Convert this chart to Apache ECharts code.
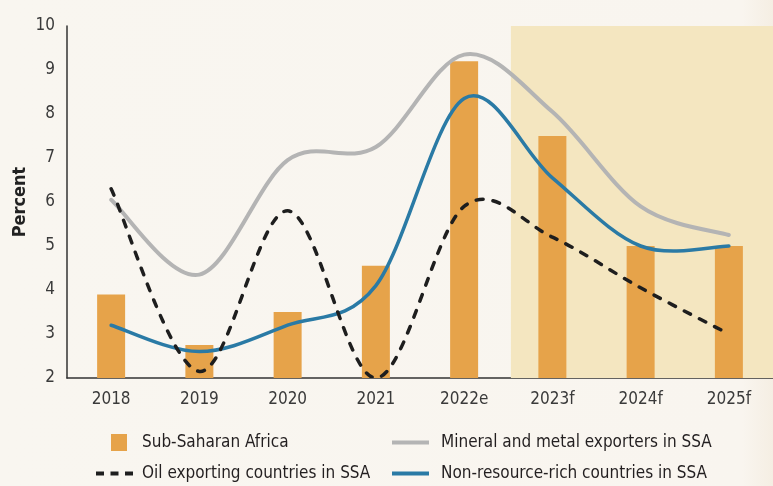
<!DOCTYPE html>
<html>
<head>
<meta charset="utf-8">
<script src="https://cdn.jsdelivr.net/npm/echarts@6/dist/echarts.min.js"></script>
<style>
html,body{margin:0;padding:0;background:#f9f5ef;}
#chart{width:773px;height:486px;}
</style>
</head>
<body>
<div id="chart"></div>
<script>
const categories = ['2018', '2019', '2020', '2021', '2022e', '2023f', '2024f', '2025f'];
const ssaGrowth = [3.9, 2.75, 3.5, 4.55, 9.2, 7.5, 5.0, 5.0];
const mineralExporters = [6.05, 4.35, 6.95, 7.25, 9.35, 8.05, 5.9, 5.25];
const oilExporters = [6.3, 2.15, 5.8, 2.0, 5.9, 5.2, 4.05, 3.0];
const nonResourceRich = [3.2, 2.6, 3.2, 4.1, 8.35, 6.55, 5.0, 5.0];
const yTicks = [2, 3, 4, 5, 6, 7, 8, 9, 10];
const forecastStart = 5.03; // category-index position where the forecast band begins
const forecastEnd = categories.length;

const FONT = "'DejaVu Sans Condensed', 'Liberation Sans Narrow', sans-serif";
const chart = echarts.init(document.getElementById('chart'));

// Smoothed (cardinal spline) line drawn through the data points mapped by the axes
function smoothRender(values, style) {
  const t = 1 / 6;
  return function (params, api) {
    if (params.dataIndex !== 0) return null;
    const pts = values.map((v, i) => api.coord([i, v]));
    const n = pts.length;
    let d = 'M' + pts[0][0] + ',' + pts[0][1];
    for (let i = 0; i < n - 1; i++) {
      const p0 = pts[i - 1] || pts[i];
      const p1 = pts[i];
      const p2 = pts[i + 1];
      const p3 = pts[i + 2] || pts[i + 1];
      const c1x = p1[0] + (p2[0] - p0[0]) * t;
      const c1y = p1[1] + (p2[1] - p0[1]) * t;
      const c2x = p2[0] - (p3[0] - p1[0]) * t;
      const c2y = p2[1] - (p3[1] - p1[1]) * t;
      d += ' C' + c1x + ',' + c1y + ' ' + c2x + ',' + c2y + ' ' + p2[0] + ',' + p2[1];
    }
    return {
      type: 'path',
      shape: { pathData: d },
      style: Object.assign({ fill: null, lineCap: 'round', lineJoin: 'round' }, style)
    };
  };
}

const legendBase = {
  orient: 'horizontal',
  padding: 0,
  selectedMode: false,
  textStyle: { fontFamily: FONT, fontSize: 17, color: '#231f20' }
};
const solidIcon = 'path://M0,0H37V4H0Z';
const dashIcon = 'path://M0,0H8V4H0Z M14.5,0H22.5V4H14.5Z M29,0H37V4H29Z';

chart.setOption({
  animation: false,
  backgroundColor: {
    type: 'linear', x: 0, y: 0, x2: 1, y2: 0,
    colorStops: [
      { offset: 0, color: '#f9f6f0' },
      { offset: 0.96, color: '#f9f5ef' },
      { offset: 1, color: '#f5eee3' }
    ]
  },
  grid: { left: 67, right: 0, top: 26, bottom: 108, containLabel: false, outerBoundsMode: 'none' },
  legend: [
    Object.assign({}, legendBase, {
      data: ['Sub-Saharan Africa'], left: 111, top: 434,
      icon: 'rect', itemWidth: 16, itemHeight: 17,
      textStyle: Object.assign({}, legendBase.textStyle, { padding: [0, 0, 0, 10] })
    }),
    Object.assign({}, legendBase, {
      data: ['Mineral and metal exporters in SSA'], left: 392, top: 434,
      icon: solidIcon, itemWidth: 37, itemHeight: 4,
      textStyle: Object.assign({}, legendBase.textStyle, { padding: [0, 0, 0, 7] })
    }),
    Object.assign({}, legendBase, {
      data: ['Oil exporting countries in SSA'], left: 96, top: 465,
      icon: dashIcon, itemWidth: 37, itemHeight: 4,
      textStyle: Object.assign({}, legendBase.textStyle, { padding: [0, 0, 0, 4] })
    }),
    Object.assign({}, legendBase, {
      data: ['Non-resource-rich countries in SSA'], left: 392, top: 465,
      icon: solidIcon, itemWidth: 37, itemHeight: 4,
      textStyle: Object.assign({}, legendBase.textStyle, { padding: [0, 0, 0, 7] })
    })
  ],
  xAxis: [
    {
      type: 'category',
      data: categories,
      boundaryGap: true,
      axisLine: { show: true, lineStyle: { color: '#333', width: 1.5 } },
      axisTick: { show: false },
      axisLabel: { fontFamily: FONT, fontSize: 17, color: '#3a3a3a', margin: 13 },
      splitLine: { show: false }
    },
    {
      type: 'value', min: 0, max: forecastEnd, show: false,
      splitLine: { show: false }
    }
  ],
  yAxis: {
    type: 'value',
    min: yTicks[0],
    max: yTicks[yTicks.length - 1],
    interval: 1,
    axisLine: { show: true, lineStyle: { color: '#333', width: 1.5 } },
    axisTick: { show: false },
    splitLine: { show: false },
    axisLabel: { fontFamily: FONT, fontSize: 17, color: '#3a3a3a', margin: 12 },
    name: 'Percent',
    nameLocation: 'middle',
    nameGap: 38,
    nameMoveOverlap: false,
    nameTextStyle: { fontFamily: FONT, fontSize: 18, fontWeight: 'bold', color: '#222' }
  },
  series: [
    {
      type: 'line',
      xAxisIndex: 1,
      data: [[forecastStart, yTicks[0]]],
      symbol: 'none',
      lineStyle: { opacity: 0 },
      silent: true,
      z: 0,
      markArea: {
        silent: true,
        itemStyle: { color: '#f4e6c0' },
        data: [[{ coord: [forecastStart, yTicks[yTicks.length - 1]] }, { coord: [forecastEnd, yTicks[0]] }]]
      }
    },
    {
      name: 'Sub-Saharan Africa',
      type: 'bar',
      data: ssaGrowth,
      barWidth: 28,
      itemStyle: { color: '#e6a34a' },
      z: 2
    },
    {
      name: 'Mineral and metal exporters in SSA',
      type: 'custom',
      data: mineralExporters,
      renderItem: smoothRender(mineralExporters, { stroke: '#b4b4b4', lineWidth: 4 }),
      itemStyle: { color: '#b4b4b4' },
      clip: true,
      silent: true,
      z: 3
    },
    {
      name: 'Non-resource-rich countries in SSA',
      type: 'custom',
      data: nonResourceRich,
      renderItem: smoothRender(nonResourceRich, { stroke: '#2a7aa5', lineWidth: 3.5 }),
      itemStyle: { color: '#2a7aa5' },
      clip: true,
      silent: true,
      z: 4
    },
    {
      name: 'Oil exporting countries in SSA',
      type: 'custom',
      data: oilExporters,
      renderItem: smoothRender(oilExporters, { stroke: '#1e1e1e', lineWidth: 3.5, lineDash: [7, 10] }),
      itemStyle: { color: '#1e1e1e' },
      clip: true,
      silent: true,
      z: 5
    }
  ]
});
</script>
</body>
</html>
